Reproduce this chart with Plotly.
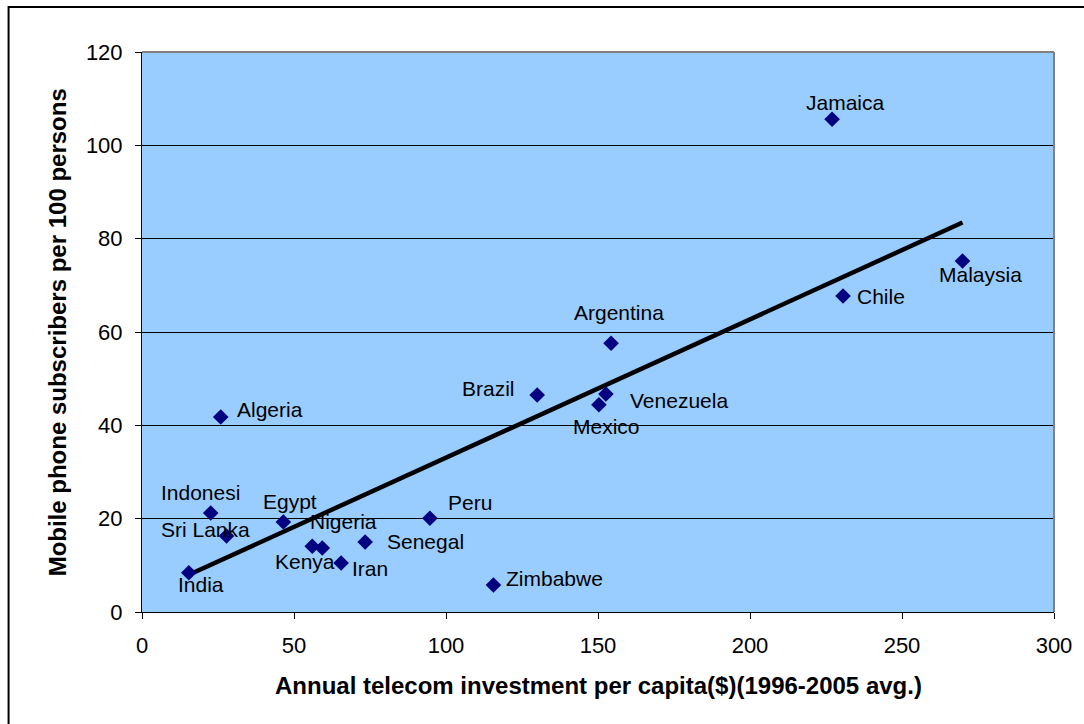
import numpy as np
import plotly.graph_objects as go

# Country-level averages, 1996-2005
countries = ["India", "Indonesi", "Sri Lanka", "Algeria", "Egypt", "Kenya", "Nigeria",
             "Iran", "Senegal", "Peru", "Zimbabwe", "Brazil", "Argentina", "Venezuela",
             "Mexico", "Jamaica", "Chile", "Malaysia"]
investment = [15.4, 22.6, 27.8, 25.9, 46.5, 56.0, 59.3, 65.5, 73.4, 94.7, 115.6,
              130.0, 154.3, 152.6, 150.3, 227.0, 230.6, 269.9]
subscribers = [8.4, 21.2, 16.3, 41.8, 19.3, 14.1, 13.7, 10.5, 15.0, 20.1, 5.8,
               46.5, 57.6, 46.7, 44.4, 105.6, 67.7, 75.2]

x_ticks = [0, 50, 100, 150, 200, 250, 300]
y_ticks = [0, 20, 40, 60, 80, 100, 120]

# Label placement per country: (xanchor, xshift, yshift) in pixels
label_pos = {
    "India": ("center", 12, -12),
    "Indonesi": ("center", -10, 21),
    "Sri Lanka": ("center", -21, 6),
    "Algeria": ("left", 14, 7),
    "Egypt": ("center", 7, 20),
    "Kenya": ("center", -7, -15),
    "Nigeria": ("center", 21, 27),
    "Iran": ("left", 9, -5),
    "Senegal": ("left", 20, 1),
    "Peru": ("left", 16, 16),
    "Zimbabwe": ("left", 11, 6),
    "Brazil": ("right", -20, 7),
    "Argentina": ("center", 8, 31),
    "Venezuela": ("left", 22, -6),
    "Mexico": ("center", 8, -22),
    "Jamaica": ("center", 13, 17),
    "Chile": ("left", 12, 0),
    "Malaysia": ("center", 18, -13),
}

FONT = "Arial, Liberation Sans, sans-serif"

# Linear least-squares trend line
slope, intercept = np.polyfit(investment, subscribers, 1)
trend_x = np.array([min(investment), max(investment)])
trend_y = slope * trend_x + intercept

fig = go.Figure()
fig.add_trace(go.Scatter(
    x=trend_x, y=trend_y, mode="lines",
    line=dict(color="black", width=4.5), showlegend=False, hoverinfo="skip"))
fig.add_trace(go.Scatter(
    x=investment, y=subscribers, mode="markers",
    marker=dict(symbol="diamond", size=12, color="#000080"),
    text=countries, showlegend=False))

annotations = []
for name, xv, yv in zip(countries, investment, subscribers):
    anchor, dx, dy = label_pos[name]
    annotations.append(dict(
        x=xv, y=yv, xref="x", yref="y", text=name, showarrow=False,
        xanchor=anchor, yanchor="middle", xshift=dx, yshift=dy,
        font=dict(family=FONT, size=21, color="black")))

annotations.append(dict(
    x=0.5, y=-0.132, xref="paper", yref="paper", showarrow=False,
    text="<b>Annual telecom investment per capita($)(1996-2005 avg.)</b>",
    xanchor="center", yanchor="middle",
    font=dict(family=FONT, size=24, color="black")))
annotations.append(dict(
    x=-0.0928, y=0.5, xref="paper", yref="paper", showarrow=False,
    text="<b>Mobile phone subscribers per 100 persons</b>", textangle=-90,
    xanchor="center", yanchor="middle",
    font=dict(family=FONT, size=24, color="black")))

shapes = [
    # top and right edges of the plot area
    dict(type="line", xref="paper", yref="paper", x0=0, x1=1, y0=1, y1=1,
         line=dict(color="#808080", width=2), layer="above"),
    dict(type="line", xref="paper", yref="paper", x0=1, x1=1, y0=0, y1=1,
         line=dict(color="#808080", width=2), layer="above"),
    # outer chart frame
    dict(type="rect", xref="paper", yref="paper", x0=-0.1463, x1=1.1, y0=-0.3, y1=1.0804,
         line=dict(color="black", width=2), fillcolor="rgba(0,0,0,0)", layer="below"),
]

fig.update_layout(
    width=1084, height=724,
    margin=dict(l=142, r=26, t=52, b=112),
    paper_bgcolor="white", plot_bgcolor="#99CCFF",
    font=dict(family=FONT, size=21, color="black"),
    annotations=annotations, shapes=shapes,
    xaxis=dict(range=[0, 300], tickvals=x_ticks, showgrid=False, zeroline=False,
               showline=True, linecolor="black", linewidth=1,
               ticks="outside", ticklen=6, tickcolor="black", ticklabelstandoff=8,
               tickfont=dict(family=FONT, size=22)),
    yaxis=dict(range=[0, 120], tickvals=y_ticks, showgrid=True, gridcolor="black",
               gridwidth=1, zeroline=False,
               showline=True, linecolor="black", linewidth=1,
               ticks="outside", ticklen=6, tickcolor="black", ticklabelstandoff=8,
               tickfont=dict(family=FONT, size=22)),
)

fig.write_html("out.html")
